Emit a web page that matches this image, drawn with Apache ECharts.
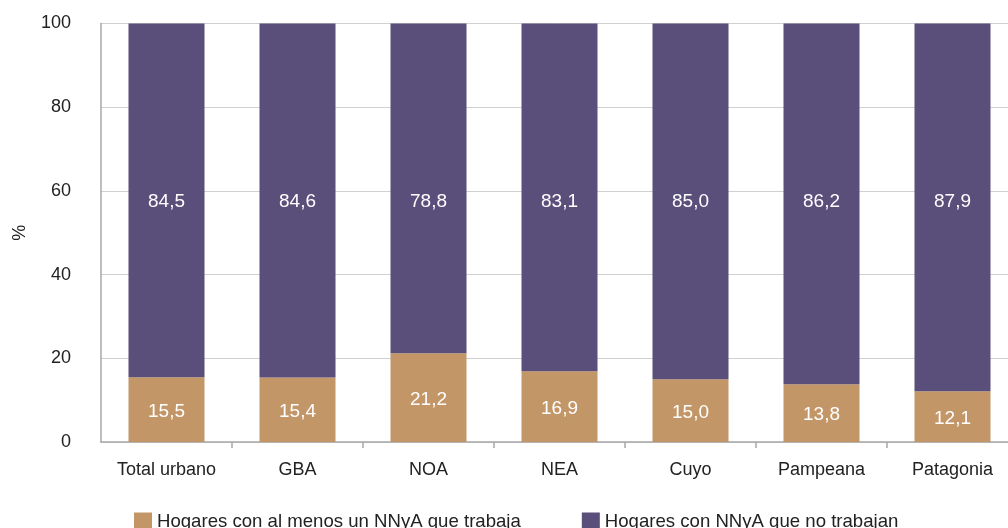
<!DOCTYPE html>
<html><head><meta charset="utf-8">
<script src="https://cdn.jsdelivr.net/npm/echarts@6/dist/echarts.min.js"></script>
<style>html,body{margin:0;padding:0;overflow:hidden;background:#fff}#c{width:1030px;height:528px}</style>
</head><body><div id="c"></div>
<script>
const categories = ['Total urbano','GBA','NOA','NEA','Cuyo','Pampeana','Patagonia'];
const trabaja = [15.5,15.4,21.2,16.9,15.0,13.8,12.1];
const noTrabaja = [84.5,84.6,78.8,83.1,85.0,86.2,87.9];
const seriesNames = ['Hogares con al menos un NNyA que trabaja','Hogares con NNyA que no trabajan'];
const yTicks = [0,20,40,60,80,100];

const font = 'Liberation Sans, Arial, Helvetica, sans-serif';
const chart = echarts.init(document.getElementById('c'));
const fmt = p=>p.value.toFixed(1).replace('.',',');
chart.setOption({
  animation:false,
  grid:{left:101,top:23.5,width:917,height:418.5,outerBoundsMode:'none',containLabel:false},
  legend:{left:129,top:507,itemWidth:18,itemHeight:18,itemGap:61,icon:'rect',
    textStyle:{fontSize:18.6,fontFamily:font,color:'#222'},data:seriesNames},
  xAxis:{type:'category',data:categories,
    axisLine:{lineStyle:{color:'#a8a8a8',width:1.5}},
    axisTick:{show:true,length:6,lineStyle:{color:'#a8a8a8',width:1.5},interval:(i)=>i>0},
    axisLabel:{fontSize:18,fontFamily:font,color:'#222',margin:19,interval:0}},
  yAxis:{type:'value',min:0,max:100,interval:20,name:'%',nameLocation:'middle',nameGap:72,
    nameRotate:90,nameTextStyle:{fontSize:18,fontFamily:font,color:'#222'},
    axisLine:{show:true,lineStyle:{color:'#a8a8a8',width:1.5}},
    axisTick:{show:false},
    splitLine:{lineStyle:{color:'#d0d0d0',width:1}},
    axisLabel:{fontSize:18,fontFamily:font,color:'#222',margin:30,
      formatter:v=>yTicks.includes(v)?String(v):''}},
  series:[
    {name:seriesNames[0],type:'bar',stack:'a',data:trabaja,barWidth:76,
     itemStyle:{color:'#c39668'},
     label:{show:true,position:'inside',offset:[0,2],color:'#fff',fontSize:19,fontFamily:font,formatter:fmt}},
    {name:seriesNames[1],type:'bar',stack:'a',data:noTrabaja,barWidth:76,
     itemStyle:{color:'#5a4f7a'},
     label:{show:true,position:['50%',178],align:'center',verticalAlign:'middle',
       color:'#fff',fontSize:19,fontFamily:font,formatter:fmt}}
  ]
});
</script></body></html>
